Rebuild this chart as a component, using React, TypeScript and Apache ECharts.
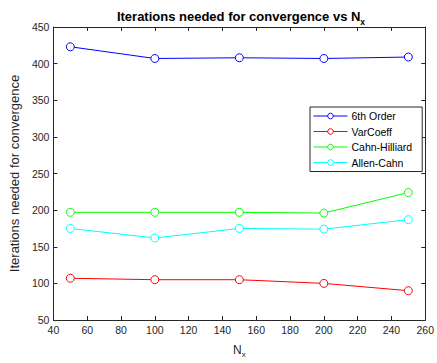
import React, { useEffect, useRef } from "react";
import * as echarts from "echarts";

const nx = [50, 100, 150, 200, 250];
const sixthOrder = [423, 407, 408, 407, 409];
const varCoeff = [107, 105, 105, 100, 90];
const cahnHilliard = [197, 197, 197, 196, 224];
const allenCahn = [175, 162, 175, 174, 187];
const seriesNames = ["6th Order", "VarCoeff", "Cahn-Hilliard", "Allen-Cahn"];
const seriesColors = ["#0000ff", "#ff0000", "#00ff00", "#00ffff"];

export default function App() {
  const ref = useRef<HTMLDivElement>(null);
  useEffect(() => {
    if (!ref.current) return;
    const chart = echarts.init(ref.current, null, { renderer: "svg" });
    const font = "Liberation Sans, Arial, sans-serif";
    const axisColor = "#262626";
    const values = [sixthOrder, varCoeff, cahnHilliard, allenCahn];
    const mkX = (pos: "bottom" | "top", show: boolean) => ({
      type: "value" as const,
      position: pos,
      min: 40,
      max: 260,
      interval: 20,
      axisLine: { show: true, onZero: false, lineStyle: { color: axisColor, width: 1 } },
      axisTick: { show: true, inside: true, length: 4, lineStyle: { color: axisColor } },
      axisLabel: { show, color: "#262626", fontSize: 10.5, fontFamily: font, margin: 4, showMaxLabel: true, showMinLabel: true },
      splitLine: { show: false },
    });
    const mkY = (pos: "left" | "right", show: boolean) => ({
      type: "value" as const,
      position: pos,
      min: 50,
      max: 450,
      interval: 50,
      axisLine: { show: true, onZero: false, lineStyle: { color: axisColor, width: 1 } },
      axisTick: { show: true, inside: true, length: 4, lineStyle: { color: axisColor } },
      axisLabel: { show, color: "#262626", fontSize: 10.5, fontFamily: font, margin: 4 },
      splitLine: { show: false },
    });
    const xBottom: any = mkX("bottom", true);
    xBottom.name = "{n|N}{s|x}";
    xBottom.nameLocation = "middle";
    xBottom.nameGap = 21;
    xBottom.nameTextStyle = {
      rich: {
        n: { fontSize: 12, fontFamily: font, color: "#262626" },
        s: { fontSize: 8, fontFamily: font, color: "#262626", padding: [9, 0, 0, 0] },
      },
    };
    const yLeft: any = mkY("left", true);
    yLeft.name = "Iterations needed for convergence";
    yLeft.nameLocation = "middle";
    yLeft.nameGap = 29;
    yLeft.nameTextStyle = { fontSize: 13, fontFamily: font, color: "#262626" };
    chart.setOption({
      animation: false,
      backgroundColor: "#ffffff",
      title: {
        text: "{t|Iterations needed for convergence vs N}{s|x}",
        left: 236,
        textAlign: "center",
        top: 1,
        textStyle: {
          rich: {
            t: { fontSize: 13, fontWeight: "bold", fontFamily: font, color: "#000" },
            s: { fontSize: 8.5, fontWeight: "bold", fontFamily: font, color: "#000", padding: [11, 0, 0, 0] },
          },
        },
      },
      grid: { left: 47, right: 11, top: 27, bottom: 39, containLabel: false },
      xAxis: [xBottom, mkX("top", false)],
      yAxis: [yLeft, mkY("right", false)],
      legend: {
        orient: "vertical",
        left: 310,
        top: 107,
        data: seriesNames,
        backgroundColor: "#ffffff",
        borderColor: "#262626",
        borderWidth: 1,
        borderRadius: 0,
        padding: [3, 10, 3, 3],
        itemWidth: 34,
        itemHeight: 7,
        itemGap: 3.5,
        lineStyle: { width: 1 },
        itemStyle: { borderWidth: 1 },
        textStyle: { fontSize: 10.5, lineHeight: 12, fontFamily: font, color: "#000", padding: [0, 0, 0, -1] },
      },
      series: seriesNames.map((name, i) => ({
        name,
        type: "line",
        xAxisIndex: 0,
        yAxisIndex: 0,
        data: nx.map((x, j) => [x, values[i][j]]),
        symbol: "circle",
        symbolSize: 8,
        showSymbol: true,
        color: seriesColors[i],
        lineStyle: { color: seriesColors[i], width: 1 },
        itemStyle: { color: "#ffffff", borderColor: seriesColors[i], borderWidth: 1, opacity: 1 },
        emphasis: { disabled: true },
      })),
    });
    return () => chart.dispose();
  }, []);
  return <div ref={ref} style={{ position: "fixed", left: 0, top: 0, width: 437, height: 363 }} />;
}
